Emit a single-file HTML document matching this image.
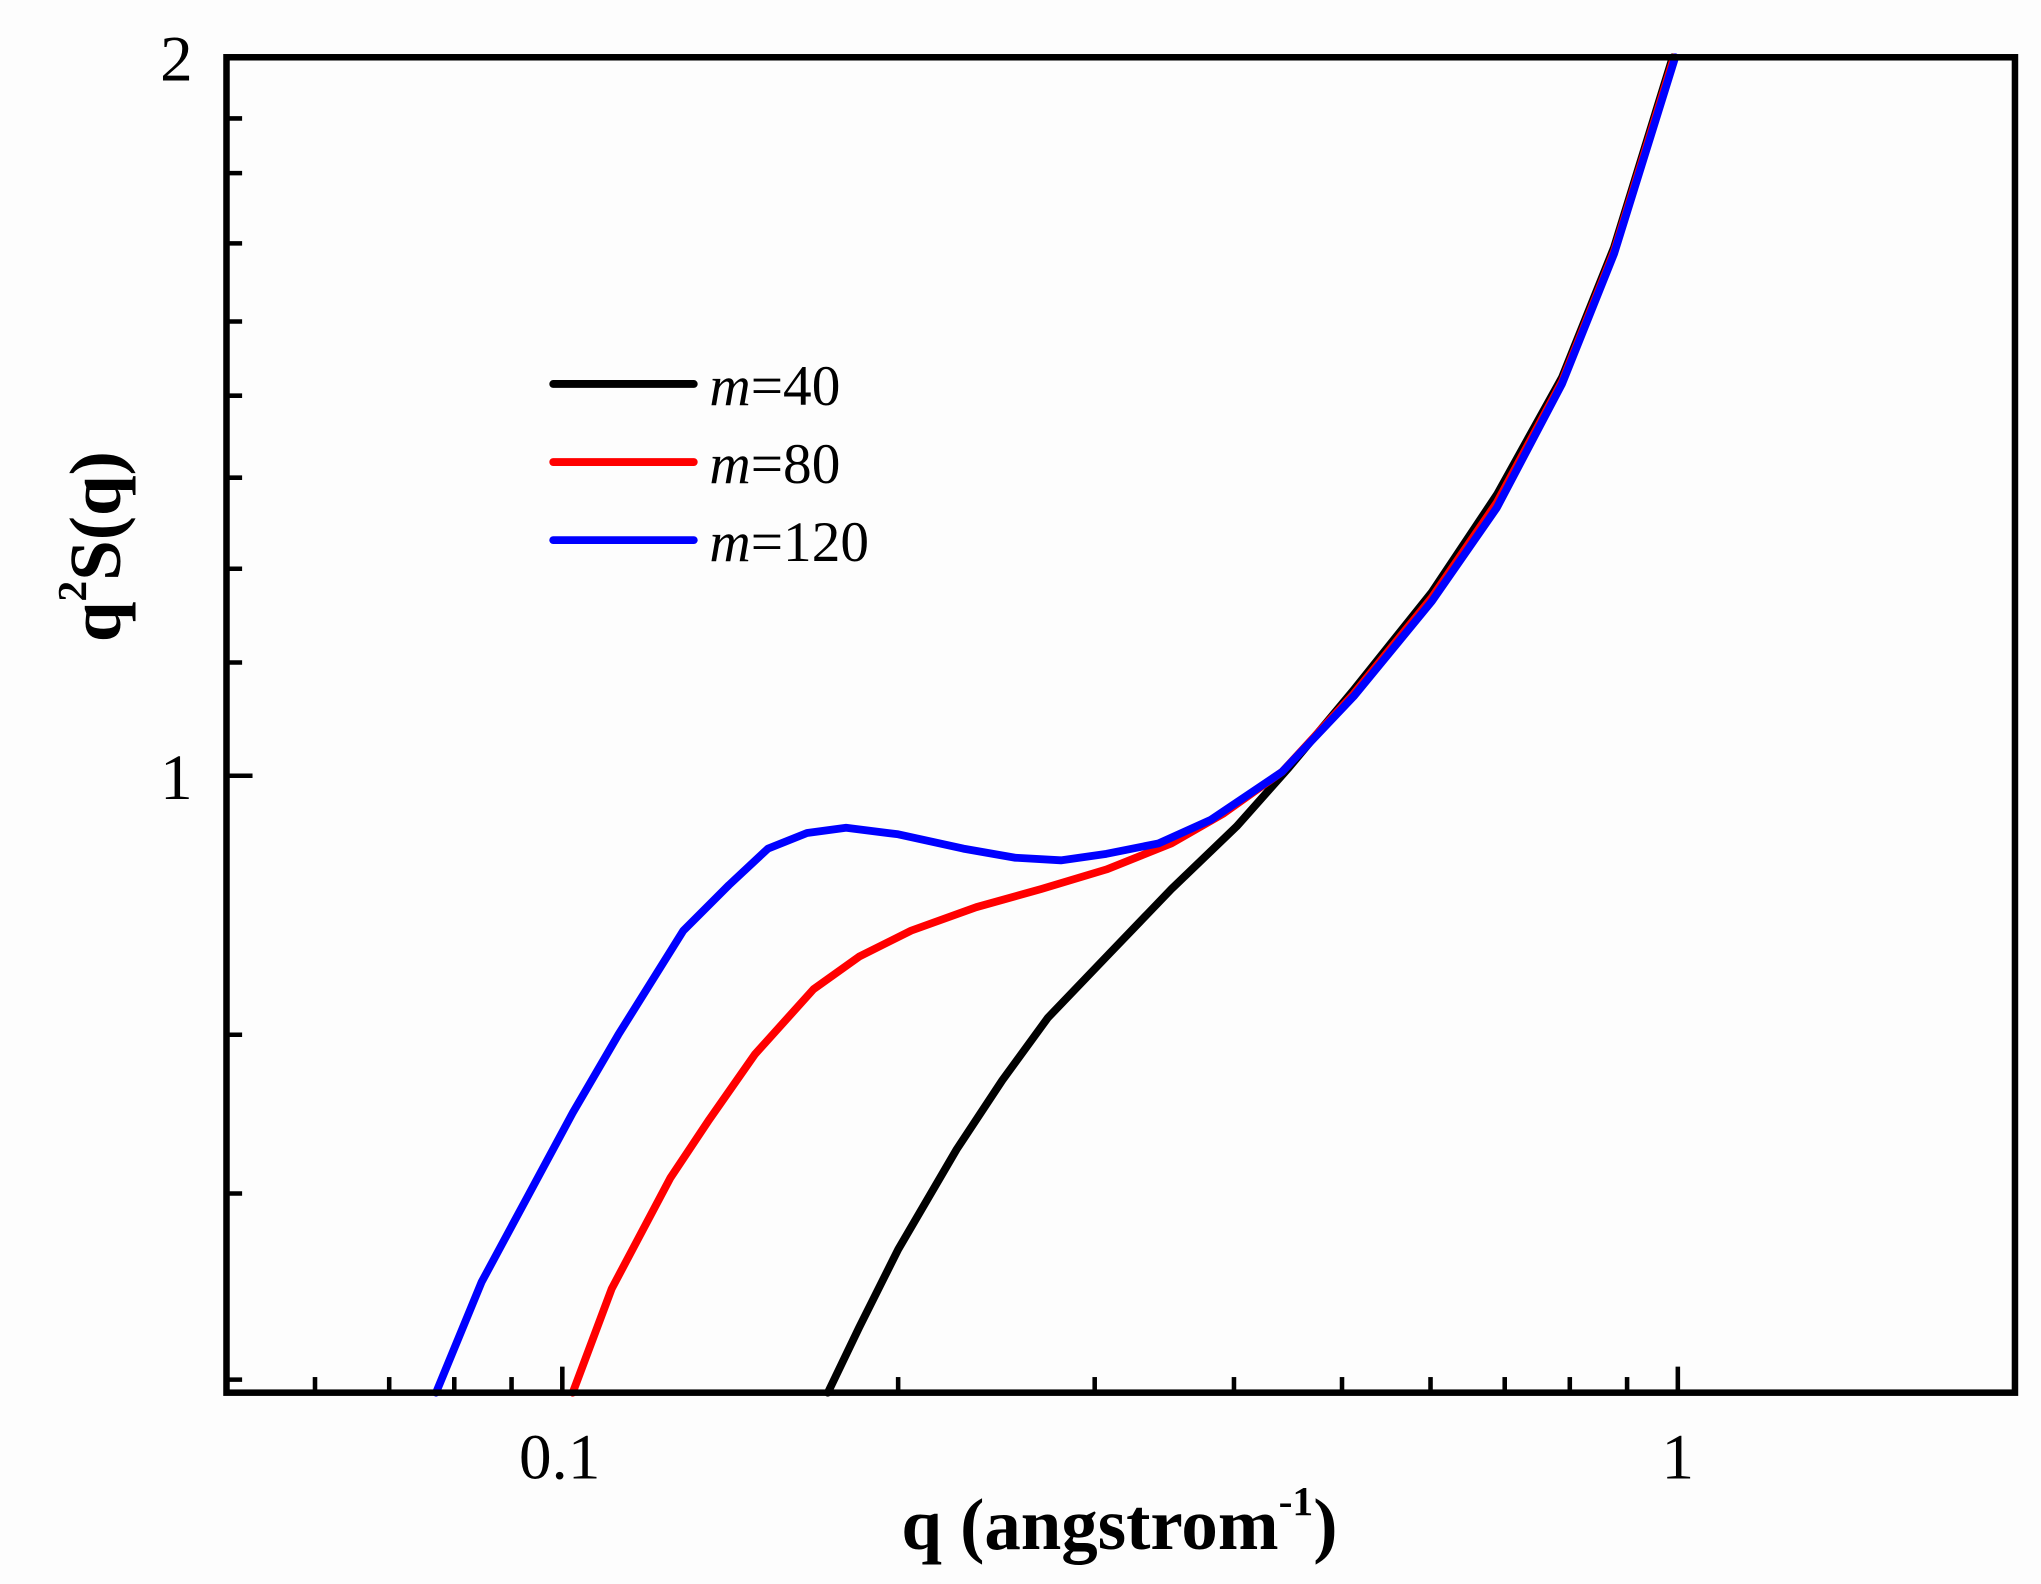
<!DOCTYPE html>
<html><head><meta charset="utf-8"><style>html,body{margin:0;padding:0;background:#fdfdfd}svg{display:block}</style></head>
<body>
<svg width="2041" height="1584" viewBox="0 0 1568 1217" preserveAspectRatio="none" xmlns="http://www.w3.org/2000/svg" font-family="'Liberation Serif', serif">
<rect width="1568" height="1217" fill="#fdfdfd"/>
<g stroke="#000" stroke-width="3.5">
<line x1="174" y1="91" x2="186" y2="91"/><line x1="174" y1="133" x2="186" y2="133"/><line x1="174" y1="187" x2="186" y2="187"/><line x1="174" y1="247" x2="186" y2="247"/><line x1="174" y1="304" x2="186" y2="304"/><line x1="174" y1="367" x2="186" y2="367"/><line x1="174" y1="437" x2="186" y2="437"/><line x1="174" y1="509" x2="186" y2="509"/><line x1="174" y1="596" x2="194" y2="596"/><line x1="174" y1="795" x2="186" y2="795"/><line x1="174" y1="917" x2="186" y2="917"/><line x1="174" y1="1060" x2="186" y2="1060"/>
<line x1="242" y1="1070" x2="242" y2="1058"/><line x1="299" y1="1070" x2="299" y2="1058"/><line x1="349" y1="1070" x2="349" y2="1058"/><line x1="393" y1="1070" x2="393" y2="1058"/><line x1="432" y1="1070" x2="432" y2="1050"/><line x1="690" y1="1070" x2="690" y2="1058"/><line x1="841" y1="1070" x2="841" y2="1058"/><line x1="948" y1="1070" x2="948" y2="1058"/><line x1="1031" y1="1070" x2="1031" y2="1058"/><line x1="1099" y1="1070" x2="1099" y2="1058"/><line x1="1156" y1="1070" x2="1156" y2="1058"/><line x1="1206" y1="1070" x2="1206" y2="1058"/><line x1="1250" y1="1070" x2="1250" y2="1058"/><line x1="1289" y1="1070" x2="1289" y2="1050"/>
</g>
<g fill="none" stroke-width="6" stroke-linejoin="round" stroke-linecap="round">
<path stroke="#000" d="M636,1070 L660,1020 L690,960 L735,883 L770,830 L805,782 L850,735 L900,683 L950,635 L990,590 L1040,530 L1100,455 L1150,380 L1200,290 L1240,190 L1285,44"/>
<path stroke="#f00" d="M440,1070 L470,990 L515,905 L545,860 L580,810 L625,760 L660,735 L700,715 L750,697 L800,683 L850,668 L900,648 L940,625 L985,593 L1040,533 L1100,459 L1150,386 L1200,293 L1240,193 L1286,44"/>
<path stroke="#00f" d="M335,1070 L370,985 L405,920 L440,855 L475,795 L525,715 L560,680 L590,652 L620,640 L650,636 L690,641 L740,652 L780,659 L815,661 L850,656 L890,648 L930,630 L985,593 L1040,535 L1100,462 L1150,390 L1200,295 L1240,195 L1287,44"/>
</g>
<rect x="174" y="44" width="1374" height="1026" fill="none" stroke="#000" stroke-width="5"/>
<g stroke-width="6" stroke-linecap="round">
<line x1="425" y1="295" x2="533" y2="295" stroke="#000"/>
<line x1="425" y1="355" x2="533" y2="355" stroke="#f00"/>
<line x1="425" y1="415" x2="533" y2="415" stroke="#00f"/>
</g>
<g font-size="44" fill="#000">
<text x="545" y="311"><tspan font-style="italic">m</tspan>=40</text>
<text x="545" y="371"><tspan font-style="italic">m</tspan>=80</text>
<text x="545" y="431"><tspan font-style="italic">m</tspan>=120</text>
</g>
<g font-size="50" fill="#000">
<text x="148" y="62" text-anchor="end">2</text>
<text x="148" y="614" text-anchor="end">1</text>
<text x="430" y="1136" text-anchor="middle">0.1</text>
<text x="1289" y="1136" text-anchor="middle">1</text>
</g>
<text x="860" y="1190" font-size="56" font-weight="bold" text-anchor="middle">q (angstrom<tspan font-size="32" dy="-26">-1</tspan><tspan dy="26">)</tspan></text>
<text transform="translate(92,420) rotate(-90)" font-size="56" font-weight="bold" text-anchor="middle">q<tspan font-size="32" dy="-26">2</tspan><tspan dy="26">S(q)</tspan></text>
</svg>
</body></html>
